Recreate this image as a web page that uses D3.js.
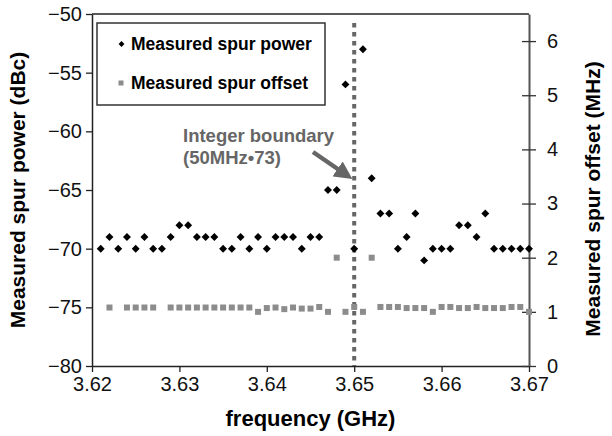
<!DOCTYPE html>
<html>
<head>
<meta charset="utf-8">
<script src="https://cdn.jsdelivr.net/npm/d3@7"></script>
<style>
  body { margin: 0; background: #fff; }
  text { font-family: "Liberation Sans", Arial, sans-serif; }
</style>
</head>
<body>
<div id="chart"></div>
<script>
// frequency points (GHz)
const freqGHz = [3.621, 3.622, 3.623, 3.624, 3.625, 3.626, 3.627, 3.628, 3.629, 3.630,
  3.631, 3.632, 3.633, 3.634, 3.635, 3.636, 3.637, 3.638, 3.639, 3.640,
  3.641, 3.642, 3.643, 3.644, 3.645, 3.646, 3.647, 3.648, 3.649, 3.650,
  3.651, 3.652, 3.653, 3.654, 3.655, 3.656, 3.657, 3.658, 3.659, 3.660,
  3.661, 3.662, 3.663, 3.664, 3.665, 3.666, 3.667, 3.668, 3.669, 3.670];

// measured spur power (dBc)
const spurPower = [-70, -69, -70, -69, -70, -69, -70, -70, -69, -68,
  -68, -69, -69, -69, -70, -70, -69, -70, -69, -70,
  -69, -69, -69, -70, -69, -69, -65, -65, -56, -70,
  -53, -64, -67, -67, -70, -69, -67, -71, -70, -70,
  -70, -68, -68, -69, -67, -70, -70, -70, -70, -70];

// measured spur offset (MHz), null = no point
const spurOffset = [null, 1.08, null, 1.08, 1.08, 1.08, 1.08, null, 1.08, 1.08,
  1.08, 1.08, 1.08, 1.08, 1.08, 1.08, 1.08, 1.08, 1.0, 1.07,
  1.08, 1.05, 1.08, 1.06, 1.06, 1.09, 1.0, 2.0, 1.0, 1.09,
  1.0, 2.0, 1.09, 1.09, 1.09, 1.07, 1.07, 1.07, 1.0, 1.09,
  1.09, 1.07, 1.07, 1.09, 1.07, 1.07, 1.07, 1.09, 1.09, 1.0];

const xTicks = [3.62, 3.63, 3.64, 3.65, 3.66, 3.67];
const yLeftTicks = [-80, -75, -70, -65, -60, -55, -50];
const yRightTicks = [0, 1, 2, 3, 4, 5, 6];
const boundaryFreq = 3.65;

const margin = {top: 14, right: 83, bottom: 70, left: 92},
  width = 612 - margin.left - margin.right,
  height = 436 - margin.top - margin.bottom;

const svg = d3.select("#chart")
  .append("svg")
  .attr("width", 612)
  .attr("height", 436)
  .append("g")
  .attr("transform", `translate(${margin.left}, ${margin.top})`);

const x = d3.scaleLinear().domain([3.62, 3.67]).range([0, width]);
const yL = d3.scaleLinear().domain([-80, -50]).range([height, 0]);
const yR = d3.scaleLinear().domain([0, 6.5]).range([height, 0]);

// top border
svg.append("line")
  .attr("x1", 0).attr("x2", width)
  .attr("y1", 0).attr("y2", 0)
  .attr("stroke", "#222").attr("stroke-width", 1.5);

// x axis
const gx = svg.append("g")
  .attr("transform", `translate(0, ${height})`)
  .call(d3.axisBottom(x).tickValues(xTicks).tickFormat(d3.format(".2f"))
    .tickSize(6).tickSizeOuter(0).tickPadding(5));

// left axis
const gl = svg.append("g")
  .call(d3.axisLeft(yL).tickValues(yLeftTicks).tickSize(6).tickSizeOuter(0).tickPadding(4));

// right axis
const gr = svg.append("g")
  .attr("transform", `translate(${width}, 0)`)
  .call(d3.axisRight(yR).tickValues(yRightTicks).tickFormat(d3.format("d"))
    .tickSize(7).tickSizeOuter(0).tickPadding(11));
gr.selectAll(".tick line").attr("x1", -7);

[gx, gl].forEach(g => {
  g.select(".domain").attr("stroke", "#222").attr("stroke-width", 1.5);
  g.selectAll(".tick line").attr("stroke", "#222").attr("stroke-width", 1.3);
});
gr.select(".domain").attr("stroke", "#555").attr("stroke-width", 2);
gr.selectAll(".tick line").attr("stroke", "#333").attr("stroke-width", 1.3);

[gx, gl, gr].forEach(g => {
  g.selectAll(".tick text")
    .style("font-size", "20px")
    .attr("fill", "#111");
});

// integer boundary line
svg.append("line")
  .attr("x1", x(boundaryFreq)).attr("x2", x(boundaryFreq))
  .attr("y1", 9).attr("y2", height)
  .attr("stroke", "#666").attr("stroke-width", 4)
  .attr("stroke-dasharray", "4.5,4.5");

// offset squares
const offsetData = freqGHz.map((f, i) => ({f: f, v: spurOffset[i]})).filter(d => d.v !== null);
svg.selectAll(".sq")
  .data(offsetData)
  .join("rect")
  .attr("class", "sq")
  .attr("x", d => x(d.f) - 3)
  .attr("y", d => yR(d.v) - 3)
  .attr("width", 6).attr("height", 6)
  .attr("fill", "#8c8c8c");

// power diamonds
const diamond = d3.symbol().type(d3.symbolDiamond2).size(40);
svg.selectAll(".dm")
  .data(freqGHz.map((f, i) => ({f: f, v: spurPower[i]})))
  .join("path")
  .attr("class", "dm")
  .attr("transform", d => `translate(${x(d.f)}, ${yL(d.v)})`)
  .attr("d", diamond)
  .attr("fill", "#000");

// legend
const lg = svg.append("g");
lg.append("rect")
  .attr("x", 5).attr("y", 9)
  .attr("width", 228).attr("height", 82)
  .attr("fill", "#fff").attr("stroke", "#333").attr("stroke-width", 1.5);
lg.append("path")
  .attr("transform", "translate(29.5, 30)")
  .attr("d", d3.symbol().type(d3.symbolDiamond2).size(22))
  .attr("fill", "#000");
lg.append("rect")
  .attr("x", 26.5).attr("y", 66.5).attr("width", 5).attr("height", 5)
  .attr("fill", "#8c8c8c");
lg.append("text").attr("x", 39).attr("y", 36)
  .style("font-size", "17.5px").style("font-weight", "bold").attr("fill", "#000")
  .text("Measured spur power");
lg.append("text").attr("x", 39).attr("y", 75)
  .style("font-size", "17.5px").style("font-weight", "bold").attr("fill", "#000")
  .text("Measured spur offset");

// annotation
svg.append("text").attr("x", 91).attr("y", 128)
  .style("font-size", "18.5px").style("font-weight", "bold").attr("fill", "#666")
  .text("Integer boundary");
svg.append("text").attr("x", 91).attr("y", 150)
  .style("font-size", "18.5px").style("font-weight", "bold").attr("fill", "#666")
  .text("(50MHz\u202273)");

svg.append("defs").append("marker")
  .attr("id", "arrow")
  .attr("viewBox", "0 0 10 10")
  .attr("refX", 5).attr("refY", 5)
  .attr("markerWidth", 4).attr("markerHeight", 4)
  .attr("orient", "auto")
  .append("path")
  .attr("d", "M0,0 L10,5 L0,10 Z")
  .attr("fill", "#666");
svg.append("line")
  .attr("x1", 221).attr("y1", 138)
  .attr("x2", 253).attr("y2", 160)
  .attr("stroke", "#666").attr("stroke-width", 4.5)
  .attr("marker-end", "url(#arrow)");

// axis titles
svg.append("text")
  .attr("transform", `translate(${-67}, ${height / 2}) rotate(-90)`)
  .attr("text-anchor", "middle")
  .style("font-size", "21px").style("font-weight", "bold").attr("fill", "#000")
  .text("Measured spur power (dBc)");
svg.append("text")
  .attr("transform", `translate(${width + 71}, ${height / 2 + 9}) rotate(-90)`)
  .attr("text-anchor", "middle")
  .style("font-size", "21px").style("font-weight", "bold").attr("fill", "#000")
  .text("Measured spur offset (MHz)");
svg.append("text")
  .attr("x", width / 2).attr("y", height + 60)
  .attr("text-anchor", "middle")
  .style("font-size", "22px").style("font-weight", "bold").attr("fill", "#000")
  .text("frequency (GHz)");
</script>
</body>
</html>
